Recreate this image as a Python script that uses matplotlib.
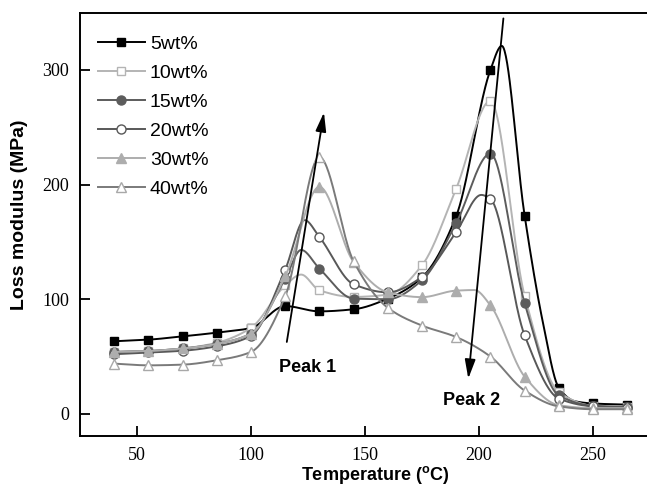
import numpy as np
import matplotlib
matplotlib.use('Agg')
import matplotlib.pyplot as plt

plt.rcParams['font.family'] = ['Liberation Sans', 'DejaVu Sans']
plt.rcParams['mathtext.fontset'] = 'custom'
plt.rcParams['mathtext.rm'] = 'Liberation Sans:bold'
plt.rcParams['mathtext.bf'] = 'Liberation Sans:bold'

# temperatures where the markers sit
temp = [40, 55, 70, 85, 100, 115, 130, 145, 160, 175, 190, 205, 220, 235, 250, 265]

loss_5 = [63.3, 64.7, 67.6, 70.8, 74.9, 94.0, 89.4, 91.2, 100.5, 119.0, 172.5, 300.0, 173.0, 22.8, 9.0, 8.0]
loss_10 = [54.0, 54.8, 57.0, 62.0, 75.0, 112.0, 107.8, 102.0, 104.0, 129.6, 196.5, 273.0, 103.0, 19.0, 7.0, 6.0]
loss_15 = [54.0, 54.8, 57.0, 61.0, 70.0, 118.0, 126.7, 100.5, 100.0, 116.5, 166.5, 227.0, 96.7, 16.0, 7.0, 6.0]
loss_20 = [52.0, 53.5, 55.0, 58.9, 68.0, 125.8, 154.3, 113.0, 106.0, 119.4, 158.7, 187.5, 68.5, 13.3, 6.5, 5.5]
loss_30 = [54.0, 54.8, 57.0, 61.0, 70.0, 120.0, 198.0, 132.5, 106.0, 101.8, 107.5, 94.7, 32.5, 7.5, 5.0, 5.0]
loss_40 = [43.8, 42.3, 42.9, 46.7, 54.0, 102.5, 224.0, 133.0, 92.5, 77.0, 67.0, 50.0, 20.3, 6.5, 4.0, 4.0]

# extra points (peaks, shoulders)
extra_t_5, extra_v_5 = [210, 228, 242], [321.0, 80.0, 11.0]
extra_t_10, extra_v_10 = [122], [121.5]
extra_t_15, extra_v_15 = [122], [143.0]
extra_t_20, extra_v_20 = [123.5, 201], [169.0, 191.0]
extra_t_30, extra_v_30 = [198], [108.0]
extra_t_40, extra_v_40 = [], []

labels = ['5wt%', '10wt%', '15wt%', '20wt%', '30wt%', '40wt%']


def pchip(x, y, xs):
    x = np.asarray(x, float)
    y = np.asarray(y, float)
    h = np.diff(x)
    d = np.diff(y) / h
    m = np.zeros_like(y)
    m[0], m[-1] = d[0], d[-1]
    for k in range(1, len(x) - 1):
        if d[k - 1] * d[k] > 0:
            w1 = 2 * h[k] + h[k - 1]
            w2 = h[k] + 2 * h[k - 1]
            m[k] = (w1 + w2) / (w1 / d[k - 1] + w2 / d[k])
    i = np.clip(np.searchsorted(x, xs) - 1, 0, len(x) - 2)
    t = (xs - x[i]) / h[i]
    h00 = 2 * t**3 - 3 * t**2 + 1
    h10 = t**3 - 2 * t**2 + t
    h01 = -2 * t**3 + 3 * t**2
    h11 = t**3 - t**2
    return h00 * y[i] + h10 * h[i] * m[i] + h01 * y[i + 1] + h11 * h[i] * m[i + 1]


def curve(vals, et, ev):
    tt = np.array(temp + et, float)
    vv = np.array(vals + ev, float)
    order = np.argsort(tt)
    xs = np.linspace(tt.min(), tt.max(), 800)
    return xs, pchip(tt[order], vv[order], xs)


styles = [
    (loss_5, extra_t_5, extra_v_5, '#000000', 's', '#000000', '#000000', 5.5),
    (loss_10, extra_t_10, extra_v_10, '#b4b4b4', 's', 'white', '#b4b4b4', 5.5),
    (loss_15, extra_t_15, extra_v_15, '#5c5c5c', 'o', '#5c5c5c', '#5c5c5c', 6.5),
    (loss_20, extra_t_20, extra_v_20, '#585858', 'o', 'white', '#585858', 6.5),
    (loss_30, extra_t_30, extra_v_30, '#adadad', '^', '#adadad', '#adadad', 7),
    (loss_40, extra_t_40, extra_v_40, '#7a7a7a', '^', 'white', '#a8a8a8', 7),
]

fig = plt.figure(figsize=(6.47, 4.88), dpi=100)
ax = fig.add_axes([80 / 647, 0.1074, 581.4 / 647, 0.8666])

for (vals, et, ev, lc, mk, mfc, mec, ms), lab in zip(styles, labels):
    xs, ys = curve(vals, et, ev)
    ax.plot(xs, ys, color=lc, lw=1.4)
    ax.plot(temp, vals, ls='none', marker=mk, ms=ms, mfc=mfc, mec=mec, mew=1.0)
    ax.plot([], [], color=lc, lw=1.4, marker=mk, ms=ms, mfc=mfc, mec=mec, mew=1.0, label=lab)

ax.set_xlim(25, 280)
ax.set_ylim(-19, 350)
ax.set_xticks([50, 100, 150, 200, 250])
ax.set_yticks([0, 100, 200, 300])
ax.tick_params(direction='in', length=7, width=1.3, labelsize=13, pad=8, top=False, right=False)
for lab in ax.get_xticklabels() + ax.get_yticklabels():
    lab.set_fontfamily('Liberation Serif')
for s in ax.spines.values():
    s.set_linewidth(1.4)

ax.set_xlabel(r'Temperature ($^{\mathbf{o}}$C)', fontsize=13, fontweight='bold')
ax.set_ylabel('Loss modulus (MPa)', fontsize=14, fontweight='bold')
ax.xaxis.set_label_coords(0.507, -0.067)
ax.yaxis.set_label_coords(-0.090, 0.522)

ax.legend(loc='upper left', bbox_to_anchor=(0.031, 0.946), frameon=False, fontsize=14,
          handlelength=2.4, handletextpad=0.26, labelspacing=0.58, borderpad=0, borderaxespad=0)

arrow = dict(arrowstyle='-|>,head_length=1.15,head_width=0.32', color='black', lw=1.3,
             mutation_scale=10, shrinkA=0, shrinkB=0)
ax.annotate('', xy=(132, 263), xytext=(115.7, 62.7), arrowprops=arrow)
ax.annotate('', xy=(195.3, 30.7), xytext=(210.7, 345), arrowprops=arrow)
ax.text(124.6, 40.6, 'Peak 1', fontsize=13, fontweight='bold', ha='center', va='center')
ax.text(196.7, 11.8, 'Peak 2', fontsize=13, fontweight='bold', ha='center', va='center')

fig.savefig('out.png', dpi=100)
